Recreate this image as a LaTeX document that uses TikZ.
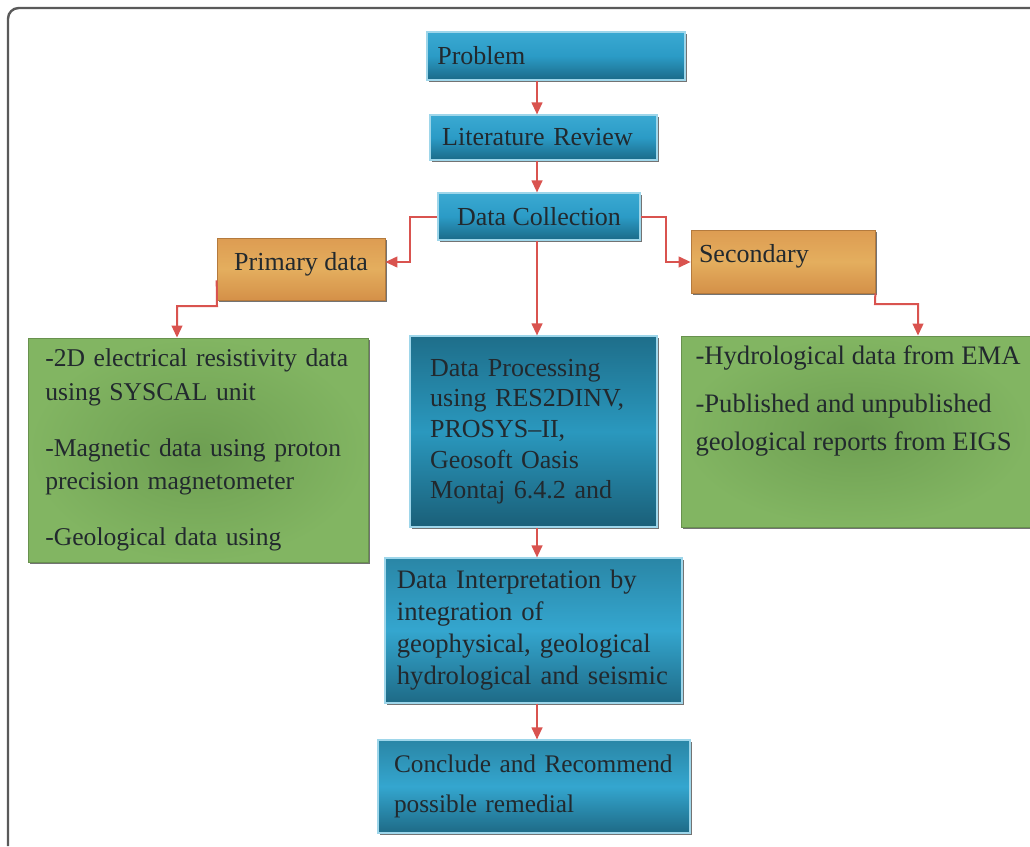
\documentclass[tikz,border=0pt]{standalone}
\usepackage{fontspec}
\setmainfont{Liberation Serif}
\usetikzlibrary{arrows.meta,shadows}
\definecolor{arrowred}{HTML}{D9534F}
\definecolor{txt}{HTML}{22292E}
\definecolor{frameg}{HTML}{5A5A5A}
\definecolor{bTop}{HTML}{3AA9D2}
\definecolor{bMid}{HTML}{2B9BC6}
\definecolor{bBot}{HTML}{1B6A88}
\definecolor{bEdge}{HTML}{9ED6EA}
\definecolor{dTop}{HTML}{1E6E8A}
\definecolor{dMid}{HTML}{2A98BE}
\definecolor{dBot}{HTML}{1A5F78}
\definecolor{iTop}{HTML}{2A86A6}
\definecolor{iMid}{HTML}{34A6CF}
\definecolor{iBot}{HTML}{1E6A86}
\definecolor{gIn}{HTML}{6E9F52}
\definecolor{gOut}{HTML}{82B562}
\definecolor{oTop}{HTML}{DD9C52}
\definecolor{oMid}{HTML}{E4AE5E}
\definecolor{oBot}{HTML}{D49048}
\begin{document}
\begin{tikzpicture}[x=0.75pt,y=-0.75pt,
  box/.style={rectangle, inner sep=0pt, text=txt, align=left,
    font=\fontsize{19.5}{25}\selectfont,
    drop shadow={shadow xshift=1.5pt, shadow yshift=-1.5pt, fill=black!55, opacity=1}},
  bluebox/.style={box, top color=bTop, bottom color=bBot, middle color=bMid, draw=bEdge, line width=0.8pt},
  darkbox/.style={box, top color=dTop, bottom color=dBot, middle color=dMid, draw=bEdge, line width=0.8pt},
  midbox/.style={box, top color=iTop, bottom color=iBot, middle color=iMid, draw=bEdge, line width=0.8pt},
  greenbox/.style={box, inner color=gIn, outer color=gOut, draw=gOut!80!black, line width=0.6pt},
  orangebox/.style={box, top color=oTop, bottom color=oBot, middle color=oMid, draw=oBot!85!black, line width=0.5pt},
  arr/.style={draw=arrowred, line width=1.5pt, -{Triangle[length=9pt,width=8pt]}},
  framec/.style={draw=frameg, line width=1.8pt, rounded corners=8pt}
]
\useasboundingbox (0,0) rectangle (1030,846);
\draw[framec] (8,846) -- (8,8) -- (1030,8);

\node[bluebox, minimum width=193.5pt, minimum height=36pt, text width=178pt] (prob) at (556,56) {Problem};
\node[bluebox, minimum width=170.25pt, minimum height=33.75pt, text width=152pt] (lit) at (543.5,137.5) {Literature Review};
\node[bluebox, minimum width=151.5pt, minimum height=35.25pt, align=center] (dc) at (539,216.5) {Data Collection};
\node[orangebox, minimum width=126pt, minimum height=46.5pt, align=center, text depth=12pt] (prim) at (301,269) {Primary data};
\node[orangebox, minimum width=138pt, minimum height=47.25pt, text width=126pt, text depth=12pt] (sec) at (783,261.5) {Secondary};

\node[greenbox, minimum width=255pt, minimum height=168pt, text width=229pt,
  font=\fontsize{19.2}{25}\selectfont] (lg) at (198,450)
  {-2D electrical resistivity data\\using SYSCAL unit\\[17pt]-Magnetic data using proton\\precision magnetometer\\[17pt]-Geological data using};

\node[darkbox, minimum width=185.25pt, minimum height=143.25pt, text width=155pt,
  font=\fontsize{19.5}{23}\selectfont] (proc) at (533.5,431.5)
  {Data Processing\\using RES2DINV,\\PROSYS--II,\\Geosoft Oasis\\Montaj 6.4.2 and\\[14pt]};

\node[greenbox, minimum width=261.75pt, minimum height=143.25pt] (rg) at (855.5,431.5)
  {\parbox[c][128pt][t]{252pt}{\raggedright\leftskip=6pt\fontsize{20}{28}\selectfont
   -Hydrological data from EMA\\[8pt]-Published and unpublished\\geological reports from EIGS}};

\node[midbox, minimum width=222.75pt, minimum height=108.75pt, text width=205pt,
  font=\fontsize{20}{24}\selectfont] (interp) at (533.5,630.5)
  {Data Interpretation by\\integration of\\geophysical, geological\\hydrological and seismic};

\node[midbox, minimum width=234pt, minimum height=69.75pt, text width=210pt,
  font=\fontsize{19}{30}\selectfont] (conc) at (534,786.5)
  {Conclude and Recommend\\possible remedial};

\coordinate (cx) at (537,0);
\coordinate (lb) at (410,262);
\coordinate (rb) at (666,262);
\coordinate (p1) at (217,306);
\coordinate (p2) at (177,306);
\coordinate (s1) at (875,304);
\coordinate (s2) at (918,304);

\draw[arr] (prob.south -| cx) -- (lit.north -| cx);
\draw[arr] (lit.south -| cx) -- (dc.north -| cx);
\draw[arr] (dc.west) -| (lb) -- (prim.east |- lb);
\draw[arr] (dc.east) -| (rb) -- (sec.west |- rb);
\draw[arr] (dc.south -| cx) -- (proc.north -| cx);
\draw[arr] ([yshift=15pt]prim.south west) -- (p1) -- (p2) -- (lg.north -| p2);
\draw[arr] (sec.south east) -- (s1) -- (s2) -- (rg.north -| s2);
\draw[arr] (proc.south -| cx) -- (interp.north -| cx);
\draw[arr] (interp.south -| cx) -- (conc.north -| cx);
\end{tikzpicture}
\end{document}
